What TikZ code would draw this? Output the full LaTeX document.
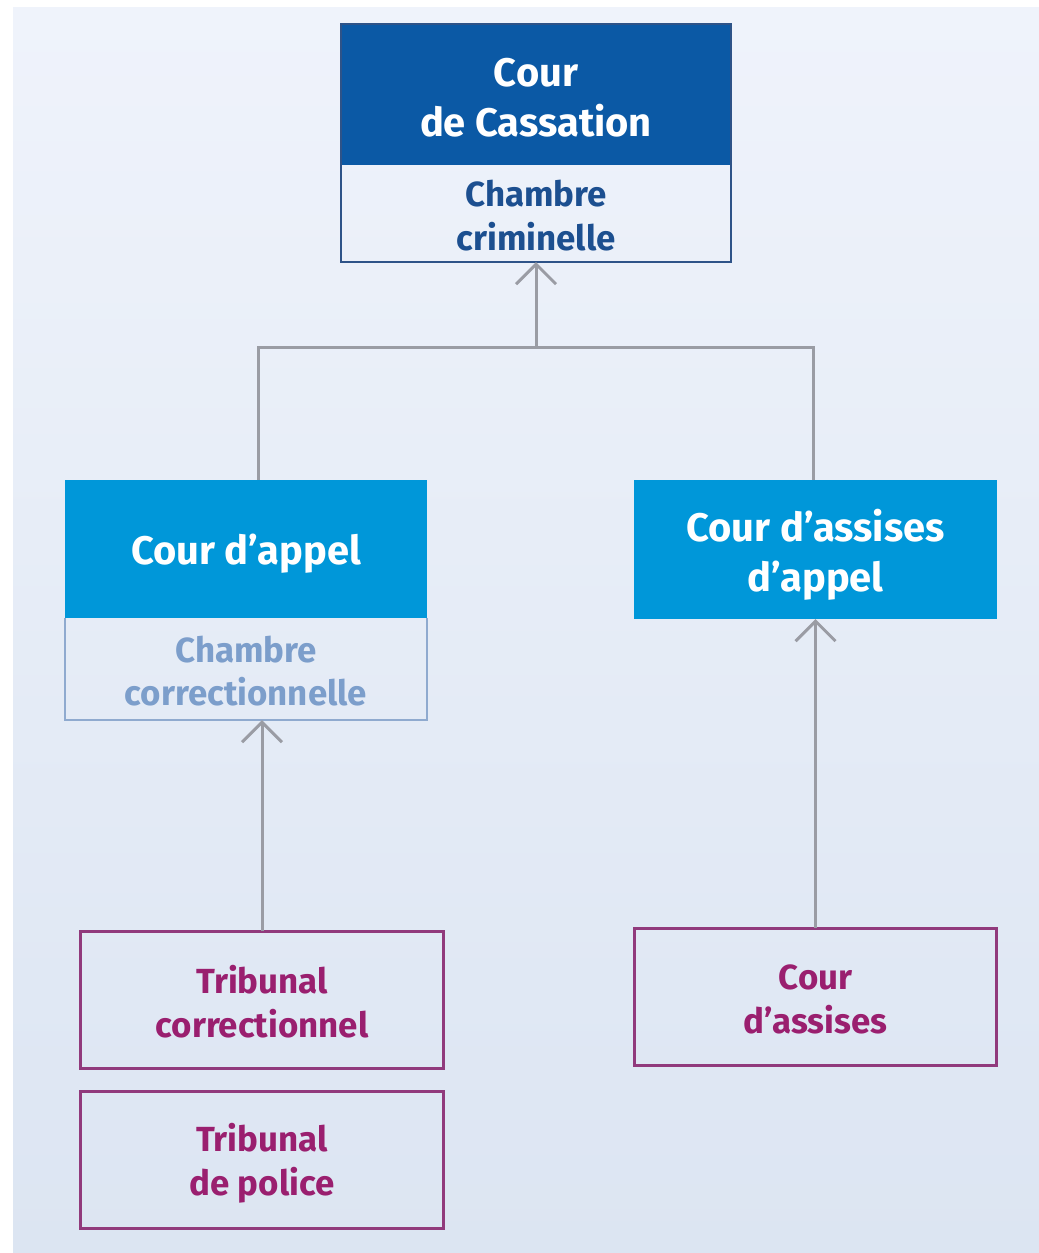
\documentclass[tikz,border=0pt]{standalone}
\usepackage{fontspec}
\setmainfont{Fira Sans}
\usetikzlibrary{arrows.meta,positioning}
\definecolor{bgtop}{HTML}{EFF3FB}
\definecolor{bgbot}{HTML}{DCE5F2}
\definecolor{navy}{HTML}{0B59A5}
\definecolor{navytext}{HTML}{1C4F90}
\definecolor{navyline}{HTML}{2E5388}
\definecolor{sky}{HTML}{0097D9}
\definecolor{steeltext}{HTML}{7C9ECB}
\definecolor{steelline}{HTML}{8FAACF}
\definecolor{plum}{HTML}{9A1F6F}
\definecolor{plumline}{HTML}{913A7C}
\definecolor{conn}{HTML}{9A9CA4}
\tikzset{
  bigtxt/.style={font=\bfseries\fontsize{40}{50}\selectfont, align=center, inner sep=0pt},
  smalltxt/.style={font=\bfseries\fontsize{35}{44}\selectfont, align=center, inner sep=0pt},
  boxshape/.style={inner sep=0pt, outer sep=0pt},
  plumbox/.style={boxshape, draw=plumline, line width=3bp, minimum width=362bp, minimum height=137bp},
  connector/.style={draw=conn, line width=3bp},
  arrowconn/.style={connector, -{Straight Barb[length=20bp,width=40bp]}},
}
\begin{document}
\begin{tikzpicture}[x=1bp,y=-1bp]
\useasboundingbox (0,0) rectangle (1039,1253);
\shade[top color=bgtop, bottom color=bgbot] (13,7) rectangle (1039,1253);

% Cour de Cassation
\node[boxshape, fill=navy, minimum width=390bp, minimum height=141bp] (casshead) at (536,94.5) {};
\node[bigtxt, text=white] (casshead-t) at ([yshift=-3bp]casshead.center) {Cour\\de Cassation};
\node[boxshape, minimum width=390bp, minimum height=97bp, anchor=north] (casslow) at (casshead.south) {};
\node[smalltxt, text=navytext] (casslow-t) at ([yshift=-2bp]casslow.center) {Chambre\\criminelle};
\draw[navyline, line width=2.5bp] (casshead.north west) rectangle (casslow.south east);

% Cour d'appel
\node[boxshape, fill=sky, minimum width=362bp, minimum height=138bp] (appelhead) at (246,549) {};
\node[bigtxt, text=white] (appelhead-t) at ([yshift=-5bp]appelhead.center) {Cour d’appel};
\node[boxshape, minimum width=362bp, minimum height=102bp, anchor=north] (appellow) at (appelhead.south) {};
\node[smalltxt, text=steeltext] (appellow-t) at ([yshift=-2bp]appellow.center) {Chambre\\correctionnelle};
\draw[steelline, line width=2.5bp] (appelhead.south west) -- (appellow.south west) -- (appellow.south east) -- (appelhead.south east);

% Cour d'assises d'appel
\node[boxshape, fill=sky, minimum width=363bp, minimum height=139bp] (assappel) at (815.5,549.5) {};
\node[bigtxt, text=white] (assappel-t) at ([yshift=-5bp]assappel.center) {Cour d’assises\\d’appel};

% First-instance courts
\node[plumbox] (tcorr) at (262,999.5) {};
\node[smalltxt, text=plum] (tcorr-t) at ([yshift=-2bp]tcorr.center) {Tribunal\\correctionnel};
\node[plumbox] (tpol) at (262,1159.5) {};
\node[smalltxt, text=plum] (tpol-t) at ([yshift=-4bp]tpol.center) {Tribunal\\de police};
\node[plumbox] (assises) at (815.5,996.5) {};
\node[smalltxt, text=plum] (assises-t) at ([yshift=-3bp]assises.center) {Cour\\d’assises};

% Connectors
\coordinate (jl) at (258,347);
\coordinate (jr) at (813,347);
\coordinate (jm) at (536,347);
\draw[connector] (appelhead.north -| jl) -- (jl) -- (jr) -- (assappel.north -| jr);
\draw[arrowconn] (jm) -- (casslow.south);
\draw[arrowconn] (tcorr.north) -- (tcorr.north |- appellow.south);
\draw[arrowconn] (assises.north) -- (assises.north |- assappel.south);
\end{tikzpicture}
\end{document}
